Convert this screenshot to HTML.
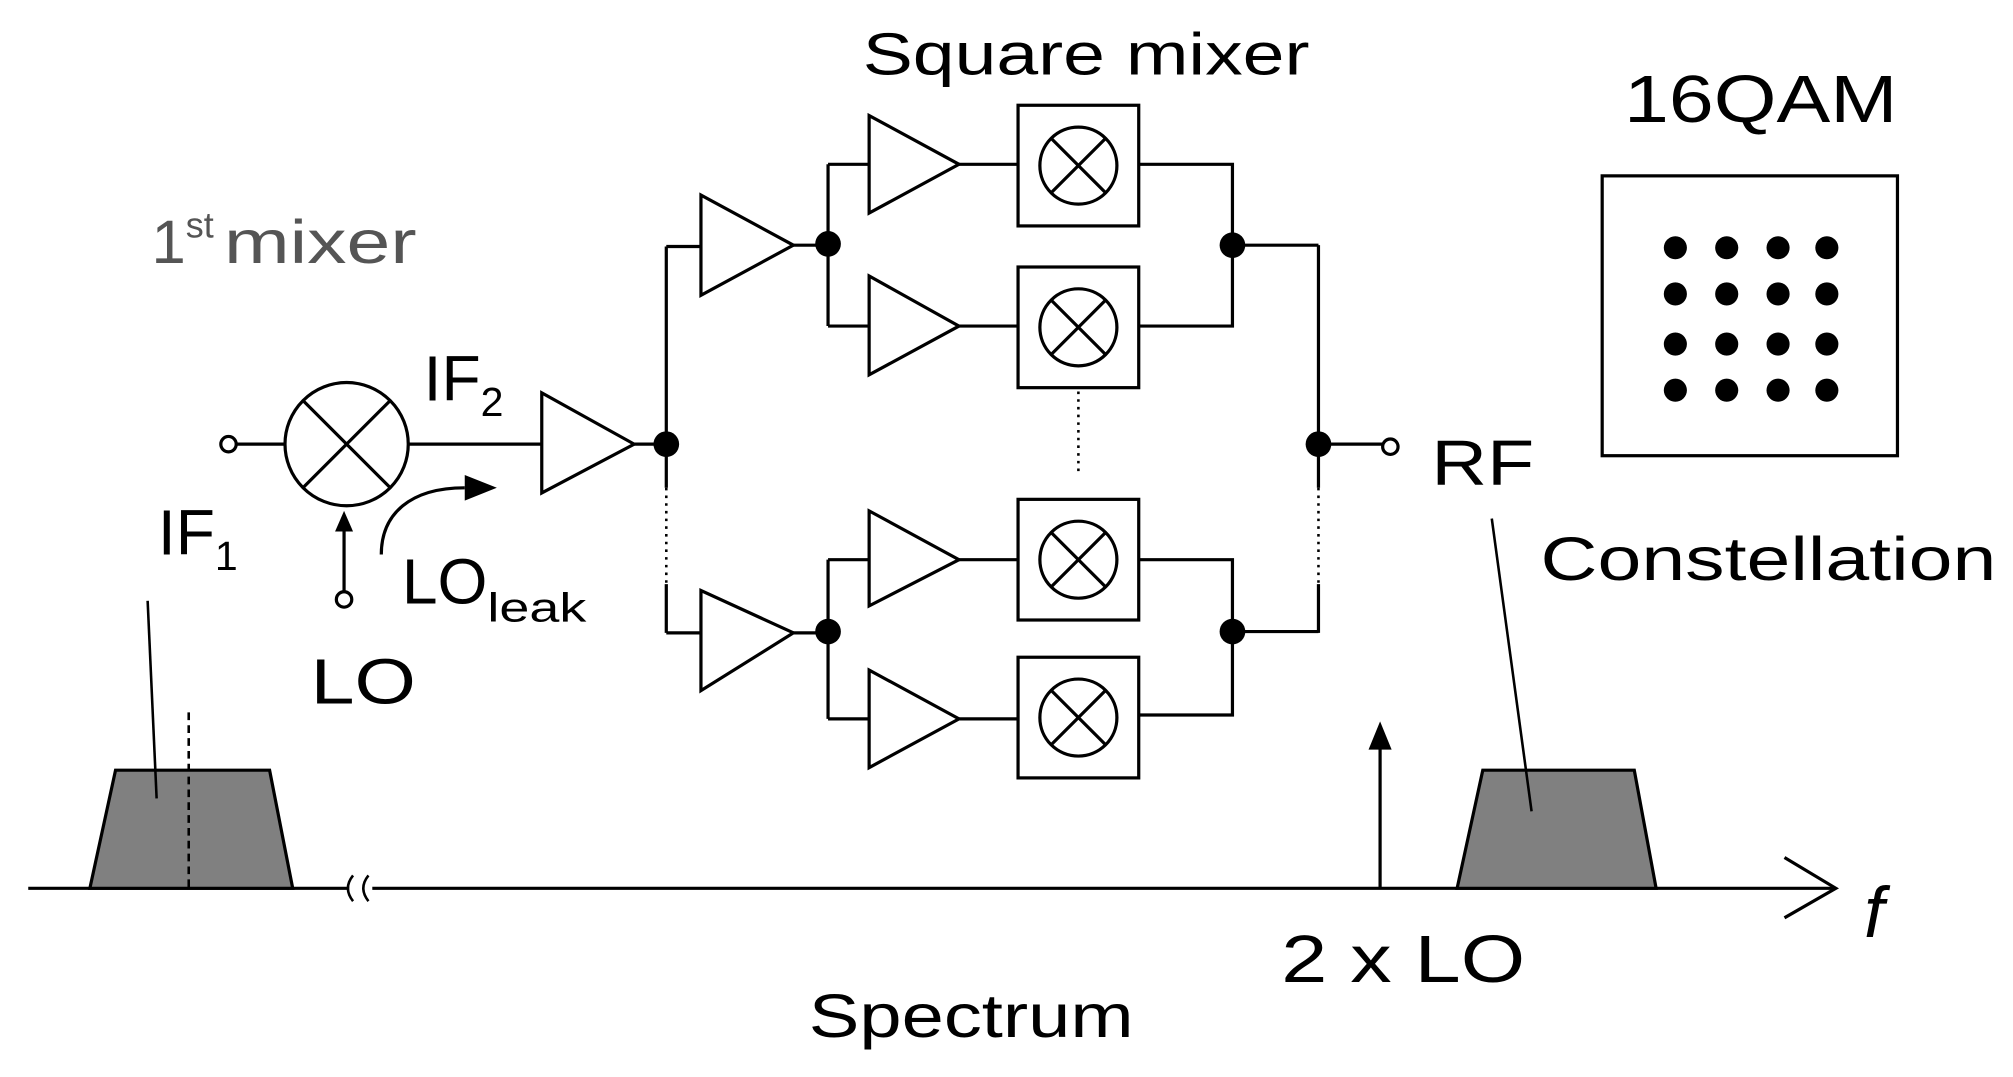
<!DOCTYPE html>
<html><head><meta charset="utf-8"><style>
html,body{margin:0;padding:0;background:#fff;}
svg{display:block;}
text{font-family:"Liberation Sans",sans-serif;fill:#000;}
</style></head><body>
<svg width="2013" height="1077" viewBox="0 0 1568 839" preserveAspectRatio="none" xmlns="http://www.w3.org/2000/svg">
<defs>
<g id="mx"><rect x="-47" y="-47" width="94" height="94" fill="#fff" stroke="#000" stroke-width="2.5"/><circle r="30" fill="none" stroke="#000" stroke-width="2.5"/><path d="M-21,-21L21,21M21,-21L-21,21" stroke="#000" stroke-width="2.5"/></g>
</defs>
<g stroke="#000" stroke-width="2.5" fill="none">
<line x1="184" y1="346" x2="222" y2="346"/>
<circle cx="178" cy="346" r="6" fill="#fff"/>
<circle cx="270" cy="346" r="48"/>
<path d="M236,312L304,380M304,312L236,380"/>
<line x1="318" y1="346" x2="422" y2="346"/>
<polygon points="422,306 422,384 494,346"/>
<line x1="494" y1="346" x2="519" y2="346"/>
<line x1="268" y1="461" x2="268" y2="410"/>
<circle cx="268" cy="467" r="6" fill="#fff"/>
<path d="M297,432 C297,400 320,380 362,380"/>
<path d="M519,192V380M519,455V493"/>
<path d="M519,380V455" stroke-width="2" stroke-dasharray="2,4"/>
<path d="M519,192H546M519,493H546"/>
<polygon points="546,152 546,230 618,191"/>
<polygon points="546,460 546,538 618,493"/>
<path d="M618,191H645M618,493H645"/>
<path d="M645,128V254M645,436V560"/>
<path d="M645,128H677M645,254H677M645,436H677M645,560H677"/>
<polygon points="677,90 677,166 747,128"/>
<polygon points="677,215 677,292 747,254"/>
<polygon points="677,398 677,472 747,436"/>
<polygon points="677,522 677,598 747,560"/>
<path d="M747,128H793M747,254H793M747,436H793M747,560H793"/>
<path d="M887,128H960V254H887M887,436H960V557H887"/>
<path d="M960,191H1027M960,492H1027"/>
<path d="M1027,191V380M1027,455V493"/>
<path d="M1027,380V455" stroke-width="2" stroke-dasharray="2,4"/>
<path d="M840,305V368" stroke-width="2" stroke-dasharray="2,4"/>
<line x1="1027" y1="346" x2="1077" y2="346"/>
<circle cx="1083" cy="348" r="6" fill="#fff"/>
<rect x="1248" y="137" width="230" height="218"/>
<line x1="22" y1="692" x2="272" y2="692"/>
<path d="M275,682 q-8,10 0,20 M287,682 q-8,10 0,20" stroke-width="2"/>
<line x1="290" y1="692" x2="1428" y2="692"/>
<path d="M1390,668 L1430,692 L1390,715"/>
<polygon points="70,692 90,600 210,600 228,692" fill="#808080"/>
<polygon points="1135,692 1155,600 1273,600 1290,692" fill="#808080"/>
<line x1="147" y1="555" x2="147" y2="692" stroke-dasharray="6,4" stroke-width="2"/>
<line x1="115" y1="468" x2="122" y2="622" stroke-width="2"/>
<line x1="1162" y1="404" x2="1193" y2="632" stroke-width="2"/>
<line x1="1075" y1="692" x2="1075" y2="580"/>
</g>
<g fill="#000">
<polygon points="268,398 261,414 275,414"/>
<polygon points="387,380 362,370 362,390"/>
<polygon points="1075,562 1066,584 1084,584"/>
<circle cx="519" cy="346" r="10"/>
<circle cx="645" cy="190" r="10"/><circle cx="645" cy="492" r="10"/>
<circle cx="960" cy="191" r="10"/><circle cx="960" cy="492" r="10"/>
<circle cx="1027" cy="346" r="10"/>
</g>
<use href="#mx" x="840" y="129"/>
<use href="#mx" x="840" y="255"/>
<use href="#mx" x="840" y="436"/>
<use href="#mx" x="840" y="559"/>
<g fill="#000">
<circle cx="1305" cy="193" r="9"/><circle cx="1345" cy="193" r="9"/><circle cx="1385" cy="193" r="9"/><circle cx="1423" cy="193" r="9"/>
<circle cx="1305" cy="229" r="9"/><circle cx="1345" cy="229" r="9"/><circle cx="1385" cy="229" r="9"/><circle cx="1423" cy="229" r="9"/>
<circle cx="1305" cy="268" r="9"/><circle cx="1345" cy="268" r="9"/><circle cx="1385" cy="268" r="9"/><circle cx="1423" cy="268" r="9"/>
<circle cx="1305" cy="304" r="9"/><circle cx="1345" cy="304" r="9"/><circle cx="1385" cy="304" r="9"/><circle cx="1423" cy="304" r="9"/>
</g>
<text x="672" y="58" font-size="46" textLength="348" lengthAdjust="spacingAndGlyphs">Square mixer</text>
<text x="1265" y="95" font-size="52" textLength="213" lengthAdjust="spacingAndGlyphs">16QAM</text>
<text x="1200" y="452" font-size="48" textLength="355" lengthAdjust="spacingAndGlyphs">Constellation</text>
<text x="118" y="205" font-size="48" style="fill:#555">1<tspan font-size="28" dy="-20">st</tspan><tspan dy="20" dx="8" textLength="150" lengthAdjust="spacingAndGlyphs">mixer</tspan></text>
<text x="330" y="312" font-size="50">IF<tspan font-size="32" dy="12">2</tspan></text>
<text x="123" y="432" font-size="50">IF<tspan font-size="32" dy="12">1</tspan></text>
<text x="313" y="470" font-size="50">LO<tspan font-size="32" dy="14" textLength="77" lengthAdjust="spacingAndGlyphs">leak</tspan></text>
<text x="242" y="548" font-size="50" textLength="82" lengthAdjust="spacingAndGlyphs">LO</text>
<text x="1115" y="378" font-size="50" textLength="80" lengthAdjust="spacingAndGlyphs">RF</text>
<text x="998" y="765" font-size="52" textLength="190" lengthAdjust="spacingAndGlyphs">2 x LO</text>
<text x="1452" y="730" font-size="56" font-style="italic" font-family="Liberation Serif">f</text>
<text x="630" y="808" font-size="48" textLength="253" lengthAdjust="spacingAndGlyphs">Spectrum</text>
</svg>
</body></html>
